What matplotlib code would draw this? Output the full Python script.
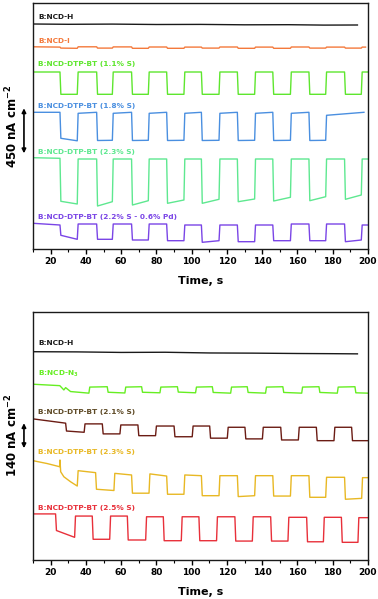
import numpy as np
import matplotlib.pyplot as plt

# ---- top panel (current in nA cm-2, offsets arbitrary) ----
t_on1 = [10, 25.3, 35.1, 46.1, 55.0, 65.9, 75.4, 85.8, 95.6, 105.5, 115.5,
         125.9, 135.7, 146.0, 156.0, 166.5, 176.0, 186.7, 196.2, 200]

h_t = [10, 30, 55, 80, 105, 130, 155, 175, 194]
h_y = [2253, 2250, 2252, 2248, 2249, 2245, 2246, 2242, 2243]

i_lev = [(2025, 2022), (2012, 2010), (2025, 2025), (2012, 2012), (2024, 2024),
         (2010, 2010), (2023, 2023), (2010, 2010), (2022, 2022), (2012, 2012),
         (2023, 2023), (2010, 2010), (2022, 2022), (2010, 2010), (2023, 2023),
         (2012, 2012), (2022, 2022), (2012, 2012), (2022, 2022)]

s11_lev = [(1773, 1773), (1550, 1550)] * 9 + [(1773, 1773)]

s18_lev = [(1370, 1370), (1110, 1085), (1360, 1370), (1088, 1090), (1360, 1370),
           (1088, 1090), (1360, 1370), (1088, 1090), (1360, 1370), (1088, 1090),
           (1360, 1370), (1088, 1090), (1360, 1370), (1088, 1090), (1360, 1370),
           (1088, 1090), (1340, 1370)]
s18_end = 197.7

s23_lev = [(916, 910), (480, 453), (903, 903), (433, 476), (903, 903), (443, 486),
           (903, 903), (460, 493), (903, 903), (460, 500), (903, 903), (476, 503),
           (903, 903), (483, 520), (903, 903), (486, 526), (903, 903), (500, 543),
           (903, 903)]

pd_lev = [(260, 243), (140, 100), (253, 253), (100, 100), (253, 253), (93, 93),
          (253, 253), (86, 86), (243, 243), (70, 86), (243, 243), (76, 76),
          (243, 243), (86, 86), (253, 253), (86, 86), (253, 253), (76, 93),
          (243, 243)]

# ---- bottom panel ----
hb_t = [10, 35, 60, 85, 110, 135, 160, 180, 194]
hb_y = [1166, 1165, 1162, 1163, 1159, 1158, 1156, 1155, 1154]

n3_t = [10, 41.7, 52.1, 62.1, 71.6, 82.0, 91.9, 102.2, 111.7, 122.1, 131.5,
        141.9, 151.7, 162.4, 172.2, 182.6, 192.6, 200]
n3_lev = [(984, 934), (968, 970), (939, 935), (968, 970), (939, 936), (968, 970),
          (940, 936), (968, 970), (938, 934), (968, 970), (938, 934), (968, 970),
          (938, 934), (968, 970), (938, 934), (968, 970), (936, 934)]
n3_extra = [(25.2, 976), (27.5, 952), (28.5, 965), (31.3, 943)]

s21_t = [10, 28.5, 39, 49.3, 59.3, 69.5, 79.5, 90, 100.3, 110.2, 120.2, 130.2,
         140.1, 150.5, 160.5, 170.7, 180.7, 190.7, 200]
s21_lev = [(790, 766), (722, 715), (762, 762), (706, 706), (756, 756), (696, 696),
           (750, 750), (690, 690), (750, 750), (682, 682), (743, 743), (678, 678),
           (743, 743), (672, 672), (743, 743), (668, 668), (743, 743), (668, 668)]

y23_t = [10, 25.2, 35.1, 45.5, 55.9, 65.9, 75.8, 85.8, 95.6, 105.5, 115.5, 125.9,
         135.7, 146.0, 156.0, 166.5, 176.0, 186.7, 196.4, 200]
y23_lev = [(556, 522), (494, 414), (500, 489), (396, 389), (485, 476), (374, 374),
           (482, 470), (368, 368), (476, 472), (360, 360), (472, 472), (355, 360),
           (472, 472), (358, 358), (472, 472), (351, 351), (463, 463), (340, 345),
           (461, 461)]
y23_extra = [(10, 556), (18, 540), (25.3, 560), (27.5, 466), (31.3, 438)]

s25_t = [10, 22.8, 33.6, 43.6, 53.5, 63.5, 73.9, 83.9, 94.1, 104.1, 114.1, 124.5,
         134.4, 144.8, 154.6, 165.2, 174.7, 184.9, 194.3, 199.6]
s25_lev = [(258, 258), (165, 127), (246, 246), (116, 116), (246, 246), (112, 112),
           (242, 242), (108, 108), (242, 242), (108, 108), (242, 242), (106, 106),
           (242, 242), (106, 106), (239, 239), (102, 102), (239, 239), (99, 99),
           (237, 237)]


def steps(edges, levels, extra=(), ramp=0.5):
    pts = []
    for i, (y0, y1) in enumerate(levels):
        a, b = edges[i], edges[i + 1]
        pts.append((a + (ramp if i else 0), y0))
        pts.append((b, y1))
    pts = sorted(list(pts) + list(extra))
    return [p[0] for p in pts], [p[1] for p in pts]


bold = dict(fontweight='bold')
lw = 1.0

fig = plt.figure(figsize=(3.78, 5.99), dpi=100)
ax1 = fig.add_axes([33 / 378, 1 - 249.3 / 599, 335 / 378, 246.6 / 599])
ax2 = fig.add_axes([33 / 378, 1 - 560 / 599, 335 / 378, 248.3 / 599])

# top panel
ax1.plot(h_t, h_y, color='#1a1a1a', lw=lw)
ax1.plot(*steps(t_on1[:19] + [198.6], i_lev), color='#f4793b', lw=lw)
ax1.plot(*steps(t_on1, s11_lev), color='#5ee62e', lw=lw)
ax1.plot(*steps(t_on1[:17] + [s18_end], s18_lev), color='#4a8fe0', lw=lw)
ax1.plot(*steps(t_on1, s23_lev), color='#5ee890', lw=lw)
ax1.plot(*steps(t_on1, pd_lev), color='#7a45e6', lw=lw)

top_labels = [('B:NCD-H', 2326, '#1a1a1a'),
              ('B:NCD-I', 2083, '#f4793b'),
              ('B:NCD-DTP-BT (1.1% S)', 1850, '#5ee62e'),
              ('B:NCD-DTP-BT (1.8% S)', 1436, '#4a8fe0'),
              ('B:NCD-DTP-BT (2.3% S)', 973, '#5ee890'),
              ('B:NCD-DTP-BT (2.2% S - 0.6% Pd)', 326, '#7a45e6')]
for txt, y, c in top_labels:
    ax1.text(12.8, y, txt, color=c, fontsize=5.3, va='center', **bold)

# bottom panel
ax2.plot(hb_t, hb_y, color='#1a1a1a', lw=lw)
ax2.plot(*steps(n3_t, n3_lev, n3_extra), color='#66ee22', lw=lw)
ax2.plot(*steps(s21_t, s21_lev), color='#6b1c14', lw=lw)
ax2.plot(*steps(y23_t, y23_lev, y23_extra), color='#e8b824', lw=lw)
ax2.plot(*steps(s25_t, s25_lev), color='#e8303a', lw=lw)

bot_labels = [('B:NCD-H', 1215, '#1a1a1a'),
              (r'B:NCD-N$_\mathbf{3}$', 1042, '#66ee22'),
              ('B:NCD-DTP-BT (2.1% S)', 827, '#5e4a26'),
              ('B:NCD-DTP-BT (2.3% S)', 603, '#e8b824'),
              ('B:NCD-DTP-BT (2.5% S)', 290, '#e8303a')]
for txt, y, c in bot_labels:
    ax2.text(12.8, y, txt, color=c, fontsize=5.3, va='center', **bold)

for ax, ylim in ((ax1, (0, 2466)), (ax2, (0, 1390))):
    ax.set_xlim(10, 200)
    ax.set_ylim(*ylim)
    ax.set_yticks([])
    ax.set_xticks(np.arange(20, 201, 20))
    ax.set_xticks(np.arange(10, 201, 10), minor=True)
    ax.tick_params(axis='x', which='major', direction='out', length=3.5, width=1,
                   labelsize=6.5, pad=2)
    ax.tick_params(axis='x', which='minor', direction='out', length=2, width=0.8)
    for lab in ax.get_xticklabels():
        lab.set_fontweight('bold')
    for sp in ax.spines.values():
        sp.set_linewidth(1.0)
        sp.set_color('#1a1a1a')
    ax.set_xlabel('Time, s', fontsize=8, labelpad=7.3, **bold)

# scale bars
ax1.annotate('', xy=(-0.027, 1410), xytext=(-0.027, 960),
             xycoords=('axes fraction', 'data'),
             arrowprops=dict(arrowstyle='<|-|>', color='black', lw=1.2,
                             mutation_scale=6, shrinkA=0, shrinkB=0),
             annotation_clip=False)
fig.text(12 / 378, 1 - 126 / 599, r'450 nA cm$^{\mathbf{-2}}$', rotation=90,
         ha='center', va='center', fontsize=8.5, **bold)

ax2.annotate('', xy=(-0.027, 766), xytext=(-0.027, 626),
             xycoords=('axes fraction', 'data'),
             arrowprops=dict(arrowstyle='<|-|>', color='black', lw=1.2,
                             mutation_scale=6, shrinkA=0, shrinkB=0),
             annotation_clip=False)
fig.text(12 / 378, 1 - 435 / 599, r'140 nA cm$^{\mathbf{-2}}$', rotation=90,
         ha='center', va='center', fontsize=8.5, **bold)

fig.savefig('out.png', dpi=100)
